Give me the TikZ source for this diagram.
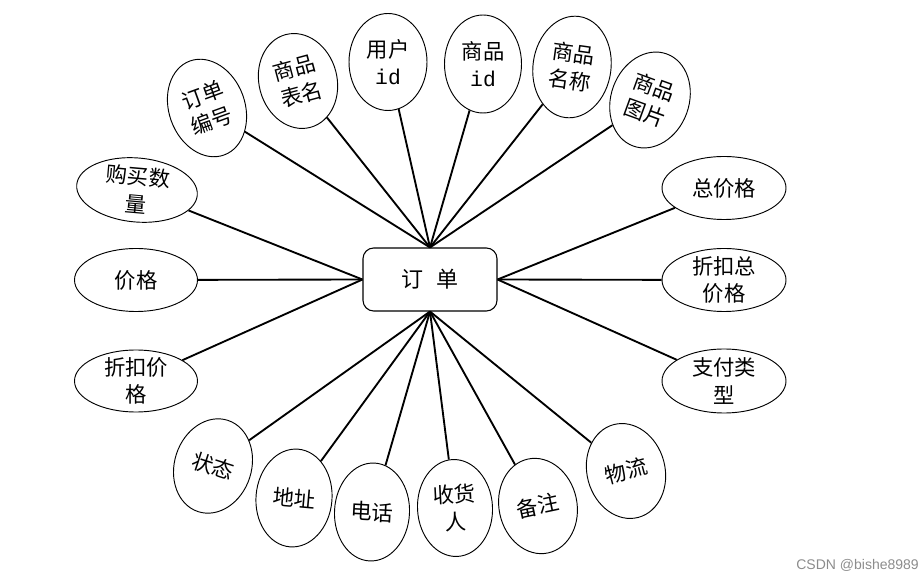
\documentclass[tikz,border=0pt]{standalone}
\usepackage{fontspec}
\setmainfont{Noto Sans CJK SC}
\newfontfamily\monof{Liberation Mono}
\newfontfamily\wmf{Liberation Sans}
\usetikzlibrary{shapes.geometric}
\newcommand\attrnode[7]{%
  \node[attrshape, minimum width=#4*0.75pt, minimum height=#5*0.75pt, rotate=#6] (#1) at (#2,#3) {};
  \node[lbl, rotate=#6] (#1t) at (#1.center) {#7};
}
\begin{document}
\begin{tikzpicture}[x=0.75pt,y=-0.75pt,
  attrshape/.style={ellipse, draw=black, line width=0.7pt, inner sep=0pt, fill=white},
  lbl/.style={align=center, inner sep=0pt, font=\fontsize{16}{20.5}\selectfont},
  entity/.style={draw=black, line width=0.8pt, rounded corners=8pt, minimum width=100.5pt, minimum height=47.25pt, inner sep=0pt, font=\fontsize{16.5}{20}\selectfont},
  conn/.style={line width=1.4pt, black}
]
\useasboundingbox (0,0) rectangle (924,580);

\node[entity] (box) at (430,279.5) {订\hspace{10pt}单};

\attrnode{e1}{207}{108}{76}{100}{20}{订单\\编号}
\attrnode{e2}{298}{81}{78}{96}{15}{商品\\表名}
\attrnode{e3}{388}{62}{78}{97}{0}{用户\\{\monof id}}
\attrnode{e4}{483}{64}{77}{98}{0}{商品\\{\monof id}}
\attrnode{e5}{572}{67}{78}{102}{-8}{商品\\名称}
\attrnode{e6}{650}{100}{78}{98}{-20}{商品\\图片}
\attrnode{e7}{137}{190}{121}{64}{-5}{购买数\\量}
\attrnode{e8}{136}{280}{123}{63}{0}{价格}
\attrnode{e9}{136}{381}{123}{62}{0}{折扣价\\格}
\attrnode{e10}{213}{466}{77}{96}{-18}{状态}
\attrnode{e11}{294}{498}{76}{98}{-5}{地址}
\attrnode{e12}{372}{512}{75}{98}{-3}{电话}
\attrnode{e13}{455}{508}{75}{97}{3}{收货\\人}
\attrnode{e14}{538}{506}{78}{96}{12}{备注}
\attrnode{e15}{626}{471}{78}{96}{15}{物流}
\attrnode{e16}{724}{188}{124}{63}{0}{总价格}
\attrnode{e17}{724}{280}{124}{63}{0}{折扣总\\价格}
\attrnode{e18}{724}{381}{124}{64}{0}{支付类\\型}

\foreach \n in {e1,e2,e3,e4,e5,e6} \draw[conn] (box.north) -- (\n);
\foreach \n in {e7,e8,e9} \draw[conn] (box.west) -- (\n);
\foreach \n in {e16,e17,e18} \draw[conn] (box.east) -- (\n);
\foreach \n in {e10,e11,e12,e13,e14,e15} \draw[conn] (box.south) -- (\n);

\node[anchor=east, text=black!45, inner sep=0pt, font=\wmf\fontsize{10.5}{12}\selectfont] (wm) at (919,565) {CSDN @bishe8989};
\end{tikzpicture}
\end{document}
